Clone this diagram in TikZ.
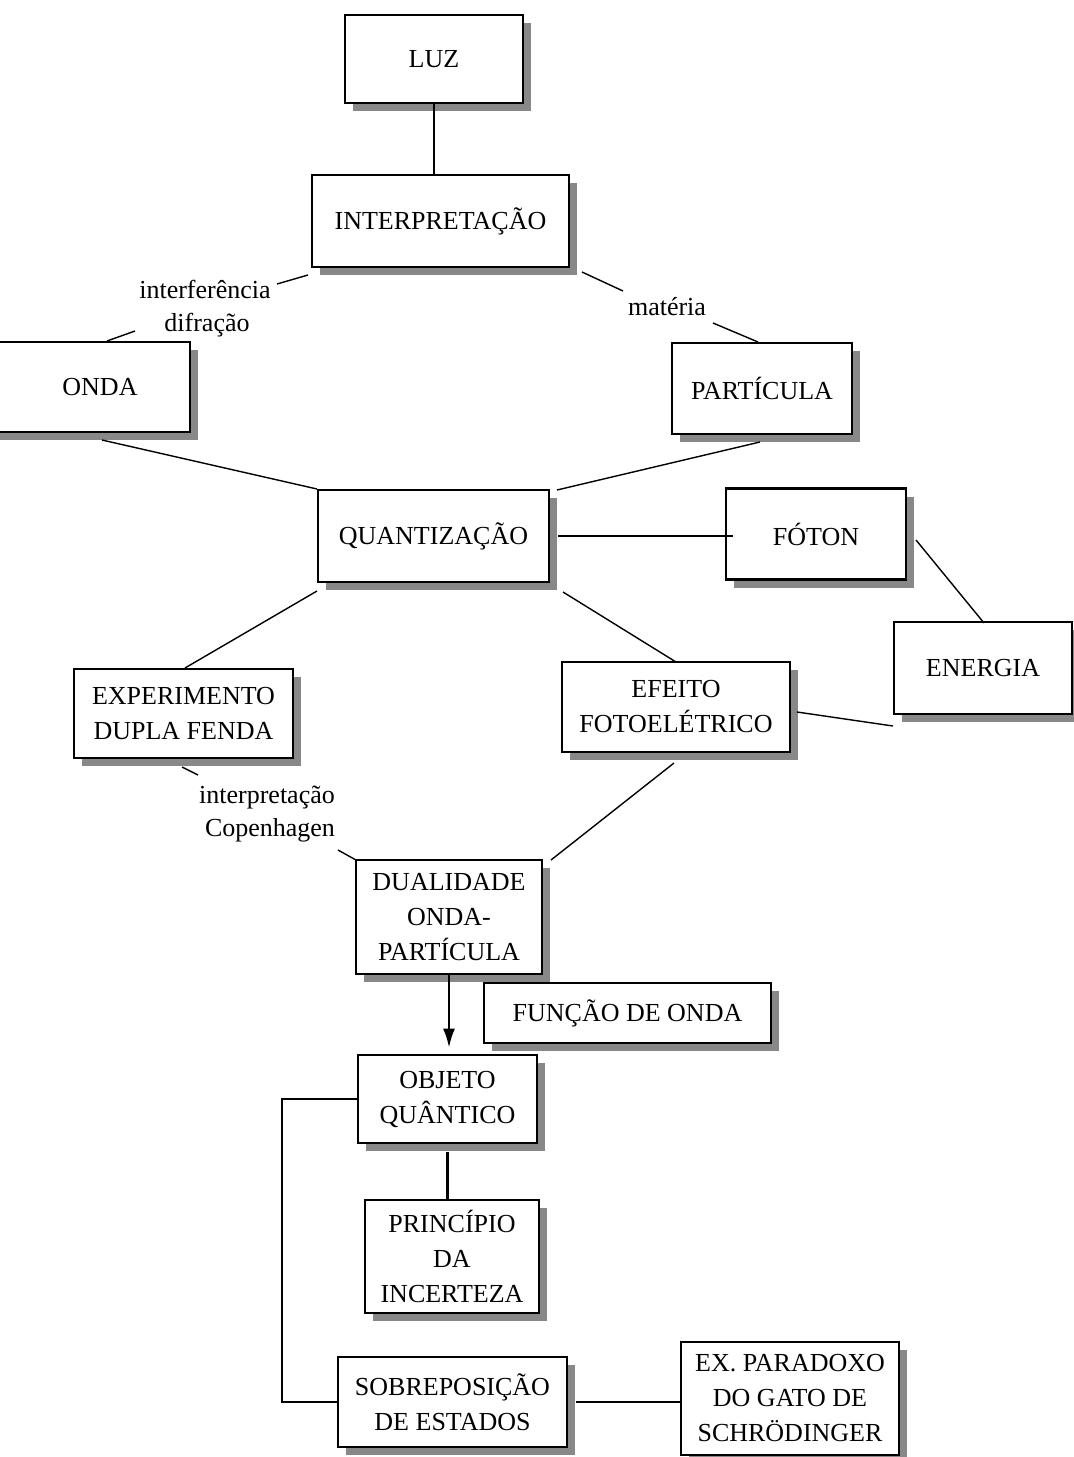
\documentclass[tikz,border=0pt]{standalone}
\usepackage{fontspec}
\setmainfont{Liberation Serif}
\usetikzlibrary{shadows,arrows.meta}
\definecolor{shadowgray}{RGB}{136,136,136}
\tikzset{
  concept/.style={draw, line width=2.7pt, fill=white, inner sep=0pt, align=center,
    font=\fontsize{26}{35}\selectfont,
    drop shadow={shadow xshift=8pt, shadow yshift=-8pt, fill=shadowgray, opacity=1}},
  tag/.style={inner sep=0pt, font=\fontsize{26}{30}\selectfont},
  link/.style={line width=1.4pt},
  bond/.style={line width=2.3pt},
}
\begin{document}
\begin{tikzpicture}[x=1pt,y=-1pt]
\useasboundingbox (0,0) rectangle (1074,1457);
\clip (0,0) rectangle (1074,1457);

% concept boxes
\node[concept, minimum width=178pt, minimum height=88pt]  (luz)    at (434,59)     {LUZ};
\node[concept, minimum width=257pt, minimum height=92pt]  (interp) at (440.5,221)  {INTERPRETAÇÃO};
\node[concept, minimum width=200pt, minimum height=90pt]  (onda)   at (90,387)     {\hspace*{20pt}ONDA};
\node[concept, minimum width=180pt, minimum height=91pt]  (part)   at (762,388.5)  {PARTÍCULA};
\node[concept, minimum width=231pt, minimum height=92pt]  (quant)  at (433.5,536)  {QUANTIZAÇÃO};
\node[concept, minimum width=180pt, minimum height=91pt]  (foton)  at (816,534)    {FÓTON};
\node[concept, minimum width=178pt, minimum height=92pt]  (energ)  at (983,668)    {ENERGIA};
\node[concept, minimum width=228pt, minimum height=90pt]  (efeito) at (676,707)    {EFEITO\\FOTOELÉTRICO};
\node[concept, minimum width=219pt, minimum height=89pt]  (exper)  at (183.5,713.5){EXPERIMENTO\\DUPLA FENDA};
\node[concept, minimum width=186pt, minimum height=114pt] (dual)   at (449,917)    {DUALIDADE\\ONDA-\\PARTÍCULA};
\node[concept, minimum width=287pt, minimum height=60pt]  (funcao) at (627.5,1013) {FUNÇÃO DE ONDA};
\node[concept, minimum width=179pt, minimum height=88pt]  (objeto) at (447.5,1099) {OBJETO\\QUÂNTICO};
\node[concept, minimum width=174pt, minimum height=113pt] (princ)  at (452,1256.5) {PRINCÍPIO\\DA\\INCERTEZA};
\node[concept, minimum width=229pt, minimum height=90pt]  (sobre)  at (452.5,1402) {SOBREPOSIÇÃO\\DE ESTADOS};
\node[concept, minimum width=218pt, minimum height=113pt] (gato)   at (790,1398.5) {EX. PARADOXO\\DO GATO DE\\SCHRÖDINGER};

% connector labels
\node[tag] (interf) at (205,289) {interferência};
\node[tag] (difr)   at (207,325) {difração};
\node[tag] (mat)    at (667,307) {matéria};
\node[tag] (cop1)   at (267,797) {interpretação};
\node[tag] (cop2)   at (270,830) {Copenhagen};

% free ends of the diagonal connectors
\coordinate (a1) at (308,275); \coordinate (a2) at (277,284);
\coordinate (a3) at (135,331); \coordinate (a4) at (107,341);
\coordinate (b1) at (582,272); \coordinate (b2) at (623,291);
\coordinate (b3) at (713,323); \coordinate (b4) at (758,342);
\coordinate (c1) at (102,440); \coordinate (c2) at (317,489);
\coordinate (d1) at (760,442); \coordinate (d2) at (557,490);
\coordinate (e1) at (563,592); \coordinate (e2) at (676,662);
\coordinate (f1) at (317,591); \coordinate (f2) at (185,668);
\coordinate (g1) at (916,540); \coordinate (g2) at (984,623);
\coordinate (h1) at (797,712); \coordinate (h2) at (893,726);
\coordinate (i1) at (182,767); \coordinate (i2) at (198,775);
\coordinate (i3) at (338,850); \coordinate (i4) at (356,860);
\coordinate (j1) at (674,763); \coordinate (j2) at (551,860);

% straight connectors
\draw[bond] (luz.south) -- (luz.south |- interp.north);
\draw[bond] ([xshift=8pt]quant.east) -- ([xshift=8pt]quant.east -| foton.west);
\draw[bond, -{Latex[length=19pt,width=12pt]}, shorten >=6pt] (dual.south) -- (dual.south |- objeto.north);
\draw[bond] ([yshift=-8pt]objeto.south) -- (objeto.south |- princ.north);
\draw[bond] (objeto.west) -- ++(-75,0) |- (sobre.west);
\draw[bond] ([xshift=8pt]sobre.east) -- (sobre.east -| gato.west);

% diagonal connectors
\draw[link] (a1) -- (a2);
\draw[link] (a3) -- (a4);
\draw[link] (b1) -- (b2);
\draw[link] (b3) -- (b4);
\draw[link] (c1) -- (c2);
\draw[link] (d1) -- (d2);
\draw[link] (e1) -- (e2);
\draw[link] (f1) -- (f2);
\draw[link] (g1) -- (g2);
\draw[link] (h1) -- (h2);
\draw[link] (i1) -- (i2);
\draw[link] (i3) -- (i4);
\draw[link] (j1) -- (j2);
\end{tikzpicture}
\end{document}
